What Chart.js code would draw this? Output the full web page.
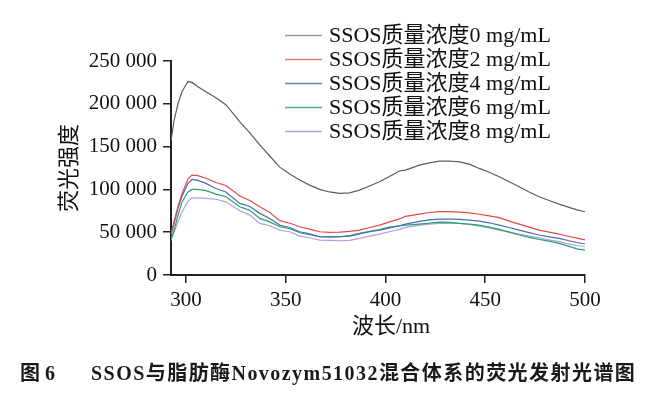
<!DOCTYPE html>
<html>
<head>
<meta charset="utf-8">
<script src="https://cdn.jsdelivr.net/npm/chart.js@4.4.1/dist/chart.umd.min.js"></script>
<style>
  html, body { margin: 0; padding: 0; background: #fff; }
  #wrap { width: 660px; height: 396px; position: relative; }
</style>
</head>
<body>
<div id="wrap"><canvas id="c"></canvas></div>
<script>
// ---- data ----
const wavelengths = [292.5, 294, 296, 298, 301, 303, 306, 310, 315, 320, 327, 332, 337, 342, 347, 352, 357, 362, 367, 372, 377, 382, 387, 392, 397, 402, 407, 410, 417, 422, 427, 432, 437, 442, 447, 452, 457, 462, 467, 472, 477, 482, 487, 492, 496, 500];

const conc0 = [157000, 180000, 200000, 214000, 226000, 225000, 220000, 214000, 207000, 199000, 179000, 166000, 152000, 139000, 126000, 118000, 111000, 105000, 100000, 97000, 95300, 96000, 99200, 104000, 109000, 115000, 121500, 122500, 128300, 131000, 133000, 133200, 132200, 129500, 124500, 120000, 114700, 109000, 103000, 97000, 91400, 87000, 82800, 79000, 76000, 73900];
const conc2 = [48000, 62000, 80000, 95000, 112000, 116700, 116000, 113000, 108000, 104500, 92200, 87000, 79700, 73000, 63500, 60500, 56400, 53500, 50500, 49800, 50000, 51000, 52500, 55500, 58300, 62000, 65500, 68500, 71200, 73000, 74000, 74000, 73500, 72500, 71000, 69000, 67000, 63000, 59500, 56000, 52500, 50000, 47800, 45000, 43000, 41000];
const conc4 = [46000, 60000, 78000, 92000, 107000, 111600, 110500, 107000, 101000, 97000, 83700, 80000, 72000, 66000, 58300, 55500, 50500, 48000, 44700, 44500, 44700, 45500, 48000, 50500, 52500, 55000, 57500, 59500, 62600, 64500, 65300, 65300, 65000, 64000, 63000, 61000, 58300, 55500, 52500, 49500, 46700, 44500, 42800, 40000, 38000, 36200];
const conc6 = [40000, 52000, 70000, 85000, 97000, 100000, 100000, 98500, 94500, 91400, 79700, 75500, 66100, 62000, 56400, 54000, 49400, 47000, 44700, 44500, 44700, 46000, 48600, 51000, 53000, 56000, 57500, 58300, 59500, 60500, 61800, 61500, 60300, 59500, 58300, 56000, 53300, 50000, 46700, 44000, 41700, 39500, 37000, 33500, 30500, 29000];
const conc8 = [42000, 50000, 62000, 74000, 86000, 90000, 90000, 89500, 88500, 85500, 75000, 70000, 60300, 57500, 52500, 50500, 45500, 43500, 40800, 40500, 40000, 40500, 42800, 45500, 47800, 50500, 53300, 55600, 58300, 59500, 60300, 60300, 60300, 59000, 57200, 55000, 52500, 50000, 47800, 45500, 43500, 41000, 38900, 36000, 34500, 33000];

const seriesLabels = ['SSOS质量浓度0 mg/mL', 'SSOS质量浓度2 mg/mL', 'SSOS质量浓度4 mg/mL', 'SSOS质量浓度6 mg/mL', 'SSOS质量浓度8 mg/mL'];
const xTicks = [300, 350, 400, 450, 500];
const yTicks = [0, 50000, 100000, 150000, 200000, 250000];
const xTitle = '波长/nm';
const yTitle = '荧光强度';
const captionNo = '图 6';
const captionText = 'SSOS与脂肪酶Novozym51032混合体系的荧光发射光谱图';

// ---- styles ----
const colors = ['#5c5c5c', '#e8494c', '#4d6cb3', '#23a46c', '#b79bd8'];
const legendColors = ['#9a9a9a', '#e07a86', '#6f82b8', '#4fb08a', '#b4a2cf'];
const SERIF = "'Liberation Serif', 'Noto Sans CJK SC', serif";
const allSeries = [conc0, conc2, conc4, conc6, conc8];

const datasets = allSeries.map((vals, i) => ({
  label: seriesLabels[i],
  data: wavelengths.map((w, j) => ({ x: w, y: vals[j] })),
  borderColor: colors[i],
  backgroundColor: colors[i],
  borderWidth: 1.2,
  pointRadius: 0,
  tension: 0,
  fill: false
}));

function fmt(v) {
  return String(v).replace(/\B(?=(\d{3})+(?!\d))/g, ' ');
}

const decor = {
  id: 'decor',
  afterDraw(chart) {
    const ctx = chart.ctx;
    const ca = chart.chartArea;
    ctx.save();
    ctx.fillStyle = '#111';
    // y title
    ctx.font = '22px ' + SERIF;
    ctx.textAlign = 'center';
    ctx.textBaseline = 'middle';
    ctx.save();
    ctx.translate(70, (ca.top + ca.bottom) / 2);
    ctx.rotate(-Math.PI / 2);
    ctx.fillText(yTitle, 0, 0);
    ctx.restore();
    // x title
    ctx.fillText(xTitle, 391, 327);
    // legend
    ctx.font = '22px ' + SERIF;
    ctx.textAlign = 'left';
    const rowY = [35.5, 59.5, 83.5, 107.5, 131.5];
    chart.data.datasets.forEach((ds, i) => {
      const y = rowY[i];
      ctx.strokeStyle = legendColors[i];
      ctx.lineWidth = 1.5;
      ctx.beginPath();
      ctx.moveTo(285, y);
      ctx.lineTo(322, y);
      ctx.stroke();
      ctx.fillStyle = '#111';
      ctx.fillText(ds.label, 329, y + 1);
    });
    // caption
    ctx.font = 'bold 20px ' + SERIF;
    ctx.fillStyle = '#1a1a1a';
    ctx.textBaseline = 'middle';
    ctx.fillText(captionNo, 20, 375);
    const w = ctx.measureText(captionText).width;
    const target = 544;
    const n = [...captionText].length;
    const sp = Math.max(0, (target - w) / (n - 1));
    if ('letterSpacing' in ctx) ctx.letterSpacing = sp.toFixed(2) + 'px';
    ctx.fillText(captionText, 91, 375);
    ctx.restore();
  }
};

new Chart(document.getElementById('c'), {
  type: 'line',
  data: { datasets },
  options: {
    responsive: true,
    maintainAspectRatio: false,
    animation: false,
    layout: { padding: { top: 61, right: 75, left: 0, bottom: 0 } },
    plugins: {
      legend: { display: false },
      tooltip: { enabled: false },
      title: { display: false }
    },
    scales: {
      x: {
        type: 'linear',
        min: 292.5,
        max: 500,
        afterBuildTicks: s => { s.ticks = xTicks.map(v => ({ value: v })); },
        afterFit: s => { s.height = 396 - 275; },
        ticks: { font: { size: 21, family: SERIF }, color: '#111', padding: 5, maxRotation: 0 },
        grid: { drawOnChartArea: false, drawTicks: true, tickLength: 8, color: '#222', lineWidth: 1.5 },
        border: { display: true, color: '#222', width: 2 }
      },
      y: {
        type: 'linear',
        min: 0,
        max: 250000,
        afterBuildTicks: s => { s.ticks = yTicks.map(v => ({ value: v })); },
        afterFit: s => { s.width = 171; },
        ticks: { font: { size: 21, family: SERIF }, color: '#111', padding: 6, callback: v => fmt(v) },
        grid: { drawOnChartArea: false, drawTicks: true, tickLength: 8, color: '#222', lineWidth: 1.5 },
        border: { display: true, color: '#222', width: 2 }
      }
    }
  },
  plugins: [decor]
});
</script>
</body>
</html>
